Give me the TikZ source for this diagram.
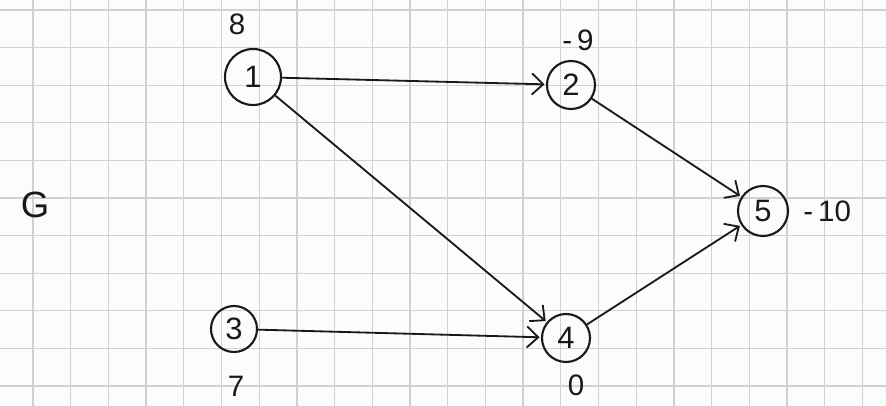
\documentclass[tikz,border=0pt]{standalone}
\usepackage{fontspec}
\setmainfont{Liberation Sans}
\usetikzlibrary{arrows.meta,positioning}
\definecolor{paper}{RGB}{252,252,250}
\definecolor{gridline}{RGB}{205,210,218}
\definecolor{pen}{RGB}{25,25,25}
\tikzset{
  vtx/.style={circle,draw=pen,line width=1.5pt,minimum size=#1,inner sep=0pt,
              font=\fontsize{22}{22}\selectfont,text=pen},
  vtx/.default=1.2cm,
  val/.style={font=\fontsize{21}{21}\selectfont,text=pen,inner sep=0pt},
  arr/.style={-{Straight Barb[length=8pt,width=15pt]},line width=1.3pt,color=pen,shorten >=1pt},
  gline/.style={draw=gridline,line width=0.9pt},
}
\begin{document}
\begin{tikzpicture}[x=0.025cm,y=-0.025cm]
    % sheet
    \fill[paper] (0,0) rectangle (886,406);
    \useasboundingbox (0,0) rectangle (886,406);
    \foreach \gx in {0,...,22}
      \draw[gline] ({33+37.7*\gx},0) -- ({33+37.7*\gx},406);
    \foreach \gy in {0,...,10}
      \draw[gline] (0,{10+37.6*\gy}) -- (886,{10+37.6*\gy});

    % vertices
    \node[vtx=1.4cm]  (n1) at (253,77)  {1};
    \node[vtx]        (n2) at (571,85)  {2};
    \node[vtx=1.15cm] (n3) at (234,329) {3};
    \node[vtx]        (n4) at (566,338) {4};
    \node[vtx=1.25cm] (n5) at (763,211) {5};

    % balances
    \node[val] at (237,24)  {8};
    \node[val] at (578,40)  {-\,9};
    \node[val] at (236,386) {7};
    \node[val] at (576,385) {0};
    \node[val,right=0.35cm of n5] {-\,10};
    \node[val,font=\fontsize{26}{26}\selectfont] (gr) at (35,205) {G};

    \draw[arr] (n1)--(n2);
    \draw[arr] (n1)--(n4);
    \draw[arr] (n2)--(n5);
    \draw[arr] (n4)--(n5);
    \draw[arr] (n3)--(n4);
  \end{tikzpicture}
\end{document}
